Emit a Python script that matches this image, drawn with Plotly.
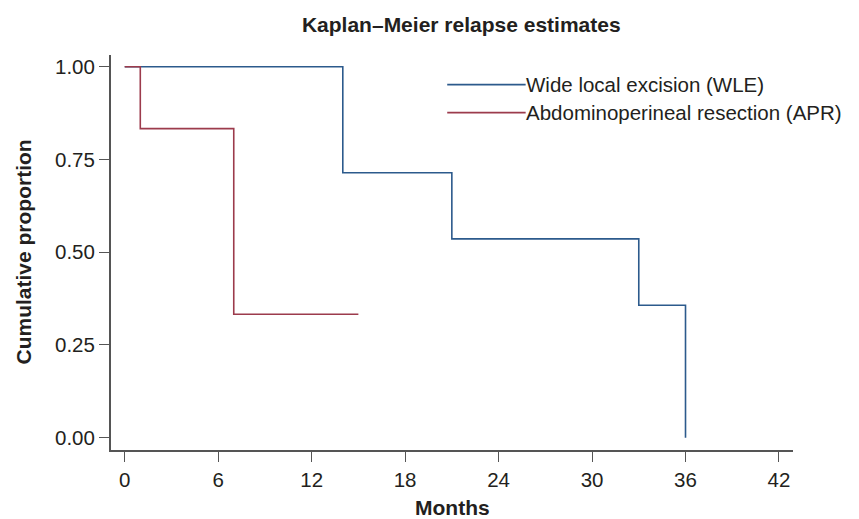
import plotly.graph_objects as go

# Kaplan-Meier step data (months, cumulative proportion)
wle_months = [0, 14, 21, 33, 36]
wle_prop = [1.0, 0.714, 0.536, 0.357, 0.0]
wle_end = 36

apr_months = [0, 1, 7]
apr_prop = [1.0, 0.833, 0.333]
apr_end = 15

x_ticks = [0, 6, 12, 18, 24, 30, 36, 42]
y_ticks = [0.0, 0.25, 0.50, 0.75, 1.00]
y_tick_labels = ["0.00", "0.25", "0.50", "0.75", "1.00"]

names = ["Wide local excision (WLE)", "Abdominoperineal resection (APR)"]
colors = ["#2c5a8c", "#9c3b4c"]

def step_xy(times, vals, end):
    xs = list(times) + [end]
    ys = list(vals) + [vals[-1]]
    return xs, ys

fig = go.Figure()
for (t, v, e), name, col in [((wle_months, wle_prop, wle_end), names[0], colors[0]),
                             ((apr_months, apr_prop, apr_end), names[1], colors[1])]:
    xs, ys = step_xy(t, v, e)
    fig.add_trace(go.Scatter(x=xs, y=ys, mode="lines", line=dict(shape="hv", color=col, width=1.6),
                             name=name, showlegend=False))

font_family = "Liberation Sans, Arial, sans-serif"

fig.update_layout(
    width=859, height=519,
    margin=dict(l=111, r=66, t=55, b=69),
    paper_bgcolor="white", plot_bgcolor="white",
    font=dict(family=font_family, size=20.5, color="#231f20"),
    title=dict(text="<b>Kaplan–Meier relapse estimates</b>", x=0.537, xanchor="center",
               y=0.952, yanchor="middle", font=dict(size=21, color="#231f20")),
)
fig.update_xaxes(
    range=[-0.88, 42.9], tickvals=x_ticks, ticks="outside", ticklen=10, tickwidth=1.3,
    tickcolor="#555", showline=True, linecolor="#555", linewidth=2, showgrid=False, zeroline=False,
    automargin=False,
)
fig.update_yaxes(
    range=[-0.033, 1.0315], tickvals=y_ticks, ticktext=y_tick_labels, ticks="outside", ticklen=10,
    tickwidth=1.3, tickcolor="#555", showline=True, linecolor="#555", linewidth=2, showgrid=False,
    zeroline=False, automargin=False,
)

# Axis titles as paper annotations
fig.add_annotation(xref="paper", yref="paper", x=0.5, y=0, yshift=-57, text="<b>Months</b>",
                   showarrow=False, xanchor="center", yanchor="middle", font=dict(size=21))
fig.add_annotation(xref="paper", yref="paper", x=0, xshift=-88, y=0.5, text="<b>Cumulative proportion</b>",
                   showarrow=False, textangle=-90, xanchor="center", yanchor="middle", font=dict(size=21))

# Manual legend (long line samples)
leg_y = [0.925, 0.854]
for name, col, yy in zip(names, colors, leg_y):
    fig.add_shape(type="line", xref="paper", yref="paper", x0=0.493, x1=0.608, y0=yy, y1=yy,
                  line=dict(color=col, width=1.6))
    fig.add_annotation(xref="paper", yref="paper", x=0.608, y=yy, text=name, showarrow=False,
                       xanchor="left", yanchor="middle", xshift=-2,
                       font=dict(size=20.5, color="#231f20"))

fig.write_html("out.html")
